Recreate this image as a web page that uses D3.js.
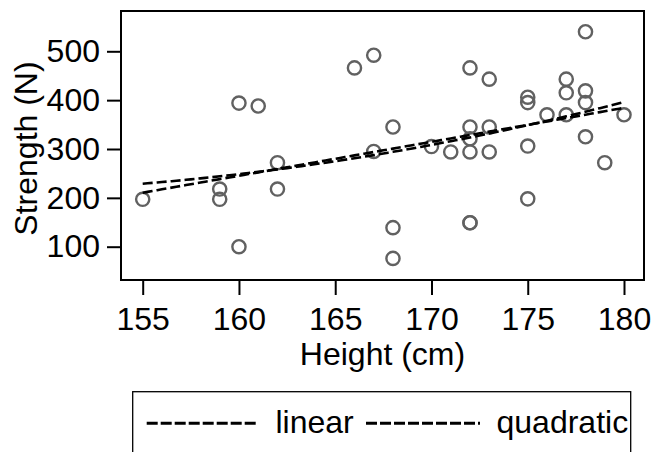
<!DOCTYPE html>
<html>
<head>
<meta charset="utf-8">
<script src="https://cdn.jsdelivr.net/npm/d3@7"></script>
<style>
  html, body { margin: 0; padding: 0; background: #fff; }
  svg { display: block; font-family: "Liberation Sans", Arial, sans-serif; }
</style>
</head>
<body>
<svg id="chart" width="653" height="452"></svg>
<script>
// height (cm) and strength (N)
const heights   = [155, 159, 159, 160, 160, 161, 162, 162, 166, 167, 167, 168, 168, 168,
                   170, 171, 172, 172, 172, 172, 172, 172, 173, 173, 173, 175, 175, 175, 175,
                   176, 177, 177, 177, 178, 178, 178, 178, 179, 180];
const strengths = [197, 218, 197, 100, 394, 388, 272, 218, 466, 492, 295, 345, 139, 76,
                   305, 294, 466, 345, 321, 294, 149, 149, 443, 345, 294, 406, 395, 306, 198,
                   370, 443, 415, 370, 540, 419, 395, 325, 272, 370];

const xTicks = [155, 160, 165, 170, 175, 180];
const yTicks = [100, 200, 300, 400, 500];
const legendItems = ["linear", "quadratic"];

const svg = d3.select("#chart");

// frame of the plot region
const box = { left: 121, top: 11, right: 644, bottom: 280 };

const x = d3.scaleLinear().domain([155, 180]).range([142.7, 624]);
const y = d3.scaleLinear().domain([100, 500]).range([246.7, 51.3]);

// --- least squares fits ---
function fitLinear(xs, ys) {
  const n = xs.length, mx = d3.mean(xs), my = d3.mean(ys);
  let sxy = 0, sxx = 0;
  for (let i = 0; i < n; i++) { sxy += (xs[i] - mx) * (ys[i] - my); sxx += (xs[i] - mx) ** 2; }
  const b = sxy / sxx;
  return (v) => my + b * (v - mx);
}
function fitQuad(xs, ys) {
  const c = d3.mean(xs);
  const u = xs.map((v) => v - c);
  const S = (p) => d3.sum(u, (v) => v ** p);
  const T = (p) => d3.sum(u, (v, i) => v ** p * ys[i]);
  const A = [[u.length, S(1), S(2)], [S(1), S(2), S(3)], [S(2), S(3), S(4)]];
  const B = [T(0), T(1), T(2)];
  // gaussian elimination
  for (let i = 0; i < 3; i++) {
    for (let j = i + 1; j < 3; j++) {
      const f = A[j][i] / A[i][i];
      for (let k = i; k < 3; k++) A[j][k] -= f * A[i][k];
      B[j] -= f * B[i];
    }
  }
  const co = [0, 0, 0];
  for (let i = 2; i >= 0; i--) {
    let s = B[i];
    for (let k = i + 1; k < 3; k++) s -= A[i][k] * co[k];
    co[i] = s / A[i][i];
  }
  return (v) => co[0] + co[1] * (v - c) + co[2] * (v - c) ** 2;
}

const lin = fitLinear(heights, strengths);
const quad = fitQuad(heights, strengths);
const xs = d3.range(155, 180.01, 0.25);
const line = d3.line().x((d) => x(d[0])).y((d) => y(d[1]));

const g = svg.append("g");

// points
g.selectAll("circle.pt").data(heights.map((h, i) => [h, strengths[i]])).join("circle")
  .attr("class", "pt")
  .attr("cx", (d) => x(d[0])).attr("cy", (d) => y(d[1])).attr("r", 6.6)
  .attr("fill", "none").attr("stroke", "#616161").attr("stroke-width", 2.4);

// fitted lines
[lin, quad].forEach((f) => {
  g.append("path").datum(xs.map((v) => [v, f(v)]))
    .attr("d", line).attr("fill", "none")
    .attr("stroke", "#000").attr("stroke-width", 2.6)
    .attr("stroke-dasharray", "10,4");
});

// frame
svg.append("rect")
  .attr("x", box.left).attr("y", box.top)
  .attr("width", box.right - box.left).attr("height", box.bottom - box.top)
  .attr("fill", "none").attr("stroke", "#000").attr("stroke-width", 2);

// x axis
const xAxis = d3.axisBottom(x).tickValues(xTicks).tickSize(15).tickPadding(12).tickSizeOuter(0);
const xg = svg.append("g").attr("transform", `translate(0,${box.bottom})`).call(xAxis);
xg.select(".domain").remove();
xg.selectAll(".tick line").attr("stroke", "#000").attr("stroke-width", 2);
xg.selectAll(".tick text").attr("font-size", 32).attr("fill", "#000")
  .attr("font-family", "Liberation Sans, Arial, sans-serif");

// y axis
const yAxis = d3.axisLeft(y).tickValues(yTicks).tickSize(14).tickPadding(7).tickSizeOuter(0);
const yg = svg.append("g").attr("transform", `translate(${box.left},0)`).call(yAxis);
yg.select(".domain").remove();
yg.selectAll(".tick line").attr("stroke", "#000").attr("stroke-width", 2);
yg.selectAll(".tick text").attr("font-size", 32).attr("fill", "#000")
  .attr("font-family", "Liberation Sans, Arial, sans-serif");

// axis titles
svg.append("text").attr("x", (box.left + box.right) / 2).attr("y", 365)
  .attr("text-anchor", "middle").attr("font-size", 32).text("Height (cm)");
svg.append("text").attr("transform", "translate(37,148.5) rotate(-90)")
  .attr("text-anchor", "middle").attr("font-size", 32).text("Strength (N)");

// legend
svg.append("rect").attr("x", 132.7).attr("y", 391.7).attr("width", 498).attr("height", 90)
  .attr("fill", "none").attr("stroke", "#000").attr("stroke-width", 1.3);
const legendX = [[146.7, 258, 275.5], [366, 480, 496.5]];
legendItems.forEach((name, i) => {
  const [a, b, t] = legendX[i];
  svg.append("line").attr("x1", a).attr("x2", b).attr("y1", 423.3).attr("y2", 423.3)
    .attr("stroke", "#000").attr("stroke-width", 3).attr("stroke-dasharray", "11,3");
  svg.append("text").attr("x", t).attr("y", 433).attr("font-size", 32).text(name);
});
</script>
</body>
</html>
